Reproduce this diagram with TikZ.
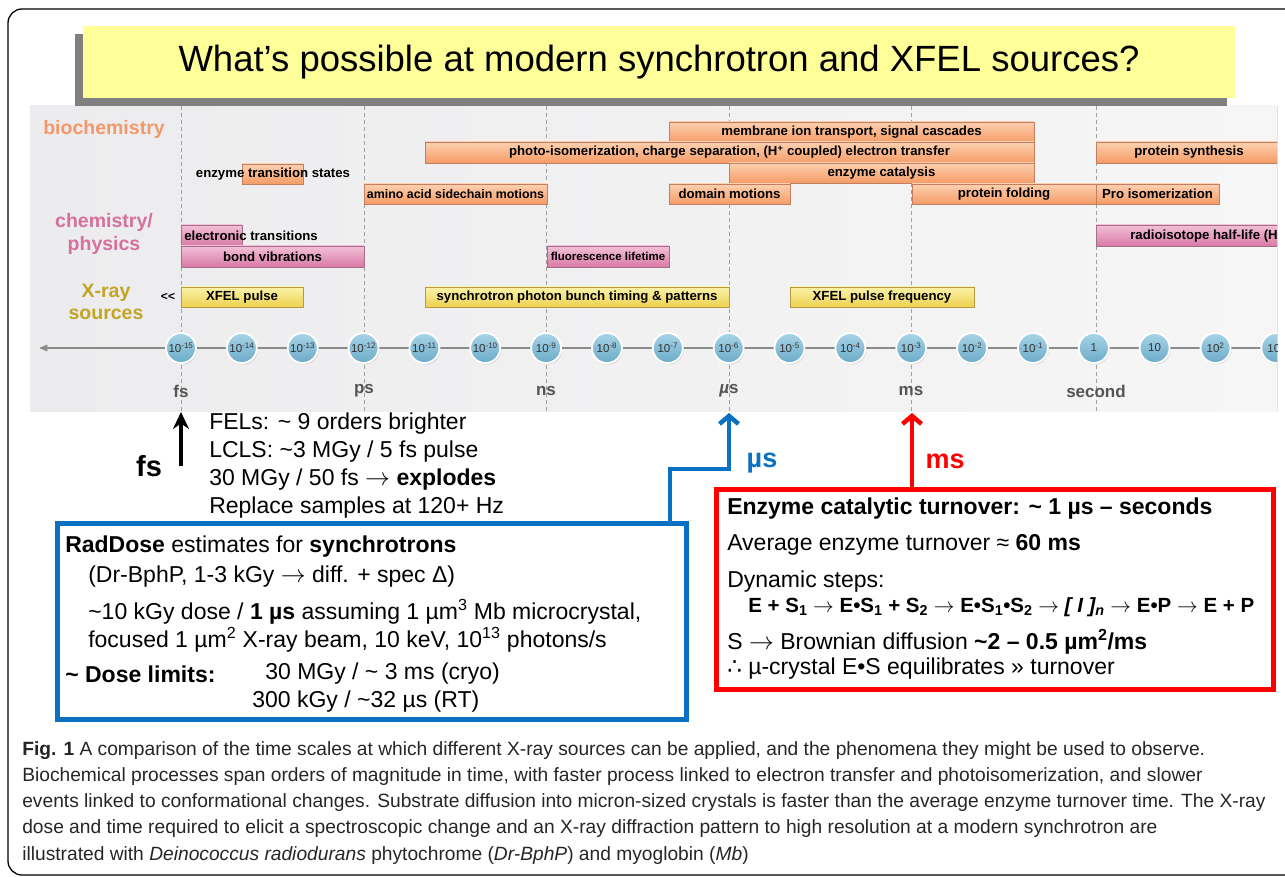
\documentclass[tikz,border=0pt]{standalone}
\usepackage{fontspec}
\setmainfont{Liberation Sans}
\newfontfamily\symfont{DejaVu Sans}
\usetikzlibrary{arrows,arrows.meta,shadows,positioning,fit}

\definecolor{titleyellow}{HTML}{FFFF99}
\definecolor{panelL}{HTML}{ECECEE}
\definecolor{panelR}{HTML}{F6F6F6}
\definecolor{otop}{HTML}{FDD0B0}
\definecolor{obot}{HTML}{F59C66}
\definecolor{obord}{HTML}{C27E60}
\definecolor{ptop}{HTML}{F3C0D8}
\definecolor{pbot}{HTML}{D87AA6}
\definecolor{pbord}{HTML}{A56E88}
\definecolor{ytop}{HTML}{FBF2AA}
\definecolor{ybot}{HTML}{EDD24E}
\definecolor{ybord}{HTML}{B39B45}
\definecolor{ctop}{HTML}{A8D4E7}
\definecolor{cbot}{HTML}{6CABC8}
\definecolor{ticktext}{HTML}{333333}
\definecolor{catO}{HTML}{F2986A}
\definecolor{catP}{HTML}{D6709E}
\definecolor{catY}{HTML}{C2A523}
\definecolor{unitgray}{HTML}{555555}
\definecolor{dashgray}{HTML}{A0A0A0}
\definecolor{axisgray}{HTML}{8A8A8A}
\definecolor{myblue}{HTML}{0A70C2}
\definecolor{myred}{HTML}{FF0000}

\newcommand\fsz[1]{\fontsize{#1}{#1}\selectfont}
\newcommand\rarr{$\rightarrow$}

\begin{document}
\begin{tikzpicture}[x=1pt,y=-1pt,>=stealth',semithick]
\tikzstyle{bar}=[rectangle,inner sep=0pt,thin,font=\fsz{13.2}\bfseries,drop shadow={shadow xshift=1pt,shadow yshift=-1.5pt,opacity=.25}]
\tikzstyle{obar}=[bar,draw=obord,top color=otop,bottom color=obot]
\tikzstyle{pbar}=[bar,draw=pbord,top color=ptop,bottom color=pbot]
\tikzstyle{ybar}=[bar,draw=ybord,top color=ytop,bottom color=ybot]
\tikzstyle{tick}=[circle,minimum size=30pt,inner sep=0pt,draw=white,line width=1.8pt,top color=ctop,bottom color=cbot,font=\fsz{11.5},text=ticktext,drop shadow={shadow xshift=1pt,shadow yshift=-1.5pt,opacity=.25}]
\tikzstyle{cat}=[font=\fontsize{19.5}{22.5}\selectfont\bfseries,align=center]
\tikzstyle{unit}=[font=\fsz{17}\bfseries,text=unitgray]
\tikzstyle{tline}=[dash pattern=on 4pt off 3pt,draw=dashgray,thin]
\tikzstyle{txt}=[anchor=west,inner sep=0pt,font=\fsz{23}]
\tikzstyle{btxt}=[txt,font=\fsz{23}\bfseries]

\useasboundingbox (0,0) rectangle (1285,877);

% frame round the figure
\draw[line width=1.3pt,rounded corners=14pt] (1300,9) -- (8,9) -- (8,875) -- (1300,875);

\begin{scope}
\clip (0,0) rectangle (1277,877);
\fill[left color=panelL,right color=panelR] (30,106) rectangle (1280,411);

% time scale
\coordinate (axl) at (40,348);
\coordinate (axr) at (1285,348);
\draw[<-,line width=1.6pt,draw=axisgray] (axl) -- (axr);
\foreach \x/\u/\n in {181/fs/fs,364/ps/ps,546/ns/ns,729/{{\itshape µ}s}/us,911/ms/ms,1096/second/sec}{
  \draw[tline] (\x,106) -- (\x,411);
  \node[unit] (u\n) at (\x,391) {\u};
}
\foreach \e [count=\i from 0] in {-15,-14,...,-1}
  \node[tick] (d\i) at (181+60.85*\i,348) {10\textsuperscript{\e}};
\node[tick] (d15) at (1093.8,348) {1};
\node[tick] (d16) at (1154.6,348) {10};
\node[tick] (d17) at (1215.5,348) {10\textsuperscript{2}};
\node[tick] (d18) at (1276.3,348) {10\textsuperscript{3}};

% biochemistry
\node[obar,minimum width=365pt,minimum height=20pt] (memb) at (851.5,132) {membrane ion transport, signal cascades};
\node[obar,minimum width=609pt,minimum height=21pt] (photo) at (729.5,152.5) {photo-isomerization, charge separation, (H\textsuperscript{+} coupled) electron transfer};
\node[obar,minimum width=305pt,minimum height=20pt] (cat) at (881.5,173) {enzyme catalysis};
\node[obar,minimum width=183pt,minimum height=20pt,font=\fsz{12.4}\bfseries] (amino) at (455.5,194) {amino acid sidechain motions};
\node[obar,minimum width=121pt,minimum height=20pt] (domain) at (729.5,194) {domain motions};
\node[obar,minimum width=184pt,minimum height=20pt] (fold) at (1004,194) {protein folding};
\node[obar,minimum width=123pt,minimum height=20pt] (pro) at (1157.5,194) {Pro isomerization};
\node[obar,minimum width=186pt,minimum height=21pt] (synth) at (1189,152.5) {protein synthesis};
\node[obar,minimum width=61pt,minimum height=20pt] (trans) at (272.5,174) {};
\node[font=\fsz{13.2}\bfseries] (transtxt) at (273,174) {enzyme transition states};

% chemistry / physics
\node[pbar,minimum width=61pt,minimum height=21pt] (elec) at (211.5,235.5) {};
\node[anchor=west,inner sep=0pt,font=\fsz{13.2}\bfseries] (electxt) at (184,236) {electronic transitions};
\node[pbar,minimum width=183pt,minimum height=21pt] (bond) at (272.5,256.5) {bond vibrations};
\node[pbar,minimum width=122pt,minimum height=21pt,font=\fsz{11.5}\bfseries] (fluor) at (608,256.5) {fluorescence lifetime};
\node[pbar,minimum width=186pt,minimum height=21pt] (radio) at (1189,235.5) {};
\node[anchor=west,inner sep=0pt,font=\fsz{13.2}\bfseries] (radiotxt) at (1130,236) {radioisotope half-life (H};

% X-ray sources
\node[ybar,minimum width=122pt,minimum height=20pt] (xfel) at (242,297) {XFEL pulse};
\node[ybar,minimum width=304pt,minimum height=20pt] (bunch) at (577,297) {synchrotron photon bunch timing \& patterns};
\node[ybar,minimum width=184pt,minimum height=20pt] (freq) at (882,297) {XFEL pulse frequency};
\node[font=\fsz{12}\bfseries] (ll) at (168,297) {{<}{<}};
\end{scope}

\node[cat,text=catO] (bio) at (104,129) {biochemistry};
\node[cat,text=catP] (chem) at (104,234) {chemistry/\\physics};
\node[cat,text=catY] (xray) at (106,302) {X-ray\\sources};

% title
\node[fill=titleyellow,minimum width=1152pt,minimum height=72pt,inner sep=0pt,font=\fsz{36.5},drop shadow={shadow xshift=-8pt,shadow yshift=-8pt,fill=black!50,opacity=1}] (title) at (659,62) {What’s possible at modern synchrotron and XFEL sources?};

% fs arrow and FEL notes
\coordinate (fstip) at (181,412);
\coordinate (fsbase) at (181,466);
\draw[-{Stealth[length=17pt,width=16pt]},line width=4pt] (fsbase) -- (fstip);
\node[font=\fsz{29}\bfseries] (fs) at (149,466) {fs};
\node[txt] (fel1) at (209,424) {FELs: \textasciitilde{} 9 orders brighter};
\node[txt] (fel2) at (209,452) {LCLS: \textasciitilde3 MGy / 5 fs pulse};
\node[txt] (fel3) at (209,480) {30 MGy / 50 fs \rarr{} \textbf{explodes}};
\node[txt] (fel4) at (209,508) {Replace samples at 120+ Hz};

% synchrotron box
\node[draw=myblue,line width=5pt,inner sep=0pt,fit={(57,523) (686,719)}] (rad) {};
\node[txt] (r1) at (65,547) {\textbf{RadDose} estimates for \textbf{synchrotrons}};
\node[txt] (r2) at (88,577) {(Dr-BphP, 1-3 kGy \rarr{} diff. + spec Δ)};
\node[txt] (r3) at (88,612) {\textasciitilde10 kGy dose / \textbf{1 µs} assuming 1 µm\textsuperscript{3} Mb microcrystal,};
\node[txt] (r4) at (88,640) {focused 1 µm\textsuperscript{2} X-ray beam, 10 keV, 10\textsuperscript{13} photons/s};
\node[btxt] (r5) at (65,674) {\textasciitilde{} Dose limits:};
\node[txt] (r6) at (265,674) {30 MGy / \textasciitilde{} 3 ms (cryo)};
\node[txt] (r7) at (252,702) {300 kGy / \textasciitilde32 µs (RT)};
\coordinate (mubend) at (670,469);
\coordinate (mutip) at (729,413);
\draw[-{Straight Barb[length=8pt,width=19pt]},line width=4.5pt,draw=myblue] (rad.north -| mubend) -- (mubend) -| (mutip);
\node[font=\fsz{27}\bfseries,text=myblue] (mus) at (762,463) {µs};

% enzyme box
\node[draw=myred,line width=5pt,inner sep=0pt,fit={(716,489) (1273,689)}] (enz) {};
\coordinate (mstip) at (912,413);
\draw[-{Straight Barb[length=8pt,width=19pt]},line width=4.5pt,draw=myred] (enz.north -| mstip) -- (mstip);
\node[font=\fsz{27}\bfseries,text=myred] (ms) at (945,461) {ms};
\node[btxt] (e1) at (727,509) {Enzyme catalytic turnover: \textasciitilde{} 1 µs – seconds};
\node[txt] (e2) at (727,545) {Average enzyme turnover ≈ \textbf{60 ms}};
\node[txt] (e3) at (727,582) {Dynamic steps:};
\node[btxt,font=\fsz{20.5}\bfseries] (e4) at (748,607) {E + S\textsubscript{1} \rarr{} E•S\textsubscript{1} + S\textsubscript{2} \rarr{} E•S\textsubscript{1}•S\textsubscript{2} \rarr{} \textit{[ I ]\textsubscript{n}} \rarr{} E•P \rarr{} E + P};
\node[txt] (e5) at (727,642) {S \rarr{} Brownian diffusion \textbf{\textasciitilde2 – 0.5 µm\textsuperscript{2}/ms}};
\node[txt] (e6) at (727,669) {{\symfont ∴} µ-crystal E•S equilibrates » turnover};

% caption
\node[anchor=north west,inner sep=0pt,align=left,text=black!85,font=\fontsize{19.2}{26.2}\selectfont] (caption) at (22,741) {\textbf{Fig. 1} A comparison of the time scales at which different X-ray sources can be applied, and the phenomena they might be used to observe.\\
Biochemical processes span orders of magnitude in time, with faster process linked to electron transfer and photoisomerization, and slower\\
events linked to conformational changes. Substrate diffusion into micron-sized crystals is faster than the average enzyme turnover time. The X-ray\\
dose and time required to elicit a spectroscopic change and an X-ray diffraction pattern to high resolution at a modern synchrotron are\\
illustrated with \textit{Deinococcus radiodurans} phytochrome (\textit{Dr-BphP}) and myoglobin (\textit{Mb})};
\end{tikzpicture}
\end{document}
